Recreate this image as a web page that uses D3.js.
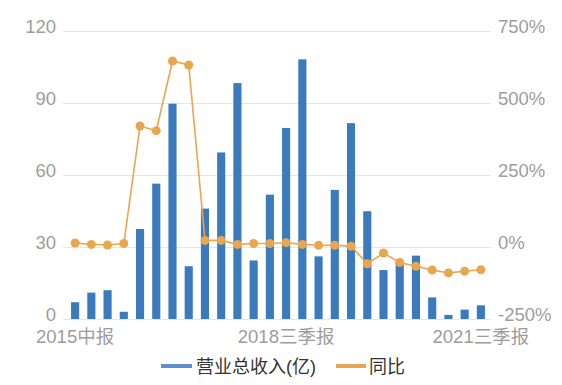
<!DOCTYPE html>
<html>
<head>
<meta charset="utf-8">
<script src="https://cdn.jsdelivr.net/npm/d3@7/dist/d3.min.js"></script>
<style>
  html, body { margin: 0; padding: 0; background: #fff; }
  svg { display: block; font-family: 'Liberation Sans', 'Noto Sans CJK SC', sans-serif; }
  .tick-label { fill: #9d9d9d; font-size: 18.5px; }
  .grid { stroke: #e6e6e6; stroke-width: 1px; }
  .legend-text { fill: #333; font-size: 18px; }
</style>
</head>
<body>
<div id="chart"></div>
<script>
// quarterly periods, 2015 Q2 .. 2021 Q3
const periods = [
  '2015中报', '2015三季报', '2015年报',
  '2016一季报', '2016中报', '2016三季报', '2016年报',
  '2017一季报', '2017中报', '2017三季报', '2017年报',
  '2018一季报', '2018中报', '2018三季报', '2018年报',
  '2019一季报', '2019中报', '2019三季报', '2019年报',
  '2020一季报', '2020中报', '2020三季报', '2020年报',
  '2021一季报', '2021中报', '2021三季报'
];
// 营业总收入 (亿)
const revenue = [7, 11, 12, 3, 37.5, 56.4, 89.7, 22, 46, 69.4, 98.3, 24.4,
  51.8, 79.6, 108.2, 26.1, 53.8, 81.6, 44.9, 20.4, 23.8, 26.4, 9, 1.7, 3.9, 5.7];
// 同比 (%)
const yoy = [14, 9, 7, 12, 420, 404, 646, 632, 23, 23, 9, 12,
  12, 15, 9, 6, 6, 3, -58, -21, -54, -67, -80, -90, -84, -79];
const leftTicks = [0, 30, 60, 90, 120];
const rightTicks = [-250, 0, 250, 500, 750];
const shownLabels = ['2015中报', '2018三季报', '2021三季报'];

const width = 562, height = 385;
const barColor = '#3b7bbd', lineColor = '#e8a64f';

const svg = d3.select('#chart').append('svg')
  .attr('width', width).attr('height', height);

const x = d3.scaleBand().domain(periods).range([67, 489])
  .paddingInner(0.5).paddingOuter(0.25);
const yL = d3.scaleLinear().domain([0, 120]).range([319, 31]);
const yR = d3.scaleLinear().domain([-250, 750]).range([319, 31]);
const cx = p => x(p) + x.bandwidth() / 2;

// grid lines
svg.append('g').selectAll('line')
  .data(leftTicks)
  .enter().append('line')
  .attr('class', 'grid')
  .attr('x1', 63).attr('x2', 491)
  .attr('y1', d => yL(d) + 0.5).attr('y2', d => yL(d) + 0.5);

// left axis labels
svg.append('g').selectAll('text')
  .data(leftTicks)
  .enter().append('text')
  .attr('class', 'tick-label')
  .attr('x', 56).attr('y', d => yL(d) + 1.5)
  .attr('text-anchor', 'end')
  .text(d => d);

// right axis labels
svg.append('g').selectAll('text')
  .data(rightTicks)
  .enter().append('text')
  .attr('class', 'tick-label')
  .attr('x', 498).attr('y', d => yR(d) + 1.5)
  .text(d => d + '%');

// x labels
svg.append('g').selectAll('text')
  .data(shownLabels)
  .enter().append('text')
  .attr('class', 'tick-label')
  .attr('x', d => cx(d)).attr('y', 343)
  .attr('text-anchor', 'middle')
  .text(d => d);

// bars
svg.append('g').selectAll('rect')
  .data(revenue)
  .enter().append('rect')
  .attr('fill', barColor)
  .attr('x', (d, i) => x(periods[i]))
  .attr('width', x.bandwidth())
  .attr('y', d => yL(d))
  .attr('height', d => yL(0) - yL(d));

// line
const line = d3.line()
  .x((d, i) => cx(periods[i]))
  .y(d => yR(d));

svg.append('path')
  .datum(yoy)
  .attr('fill', 'none')
  .attr('stroke', lineColor)
  .attr('stroke-width', 1.6)
  .attr('d', line);

svg.append('g').selectAll('circle')
  .data(yoy)
  .enter().append('circle')
  .attr('fill', lineColor)
  .attr('cx', (d, i) => cx(periods[i]))
  .attr('cy', d => yR(d))
  .attr('r', 4.5);

// legend
const legend = svg.append('g');
legend.append('line')
  .attr('x1', 161).attr('x2', 192).attr('y1', 366).attr('y2', 366)
  .attr('stroke', '#5d8fd2').attr('stroke-width', 4);
legend.append('text')
  .attr('class', 'legend-text')
  .attr('x', 196).attr('y', 373)
  .text('营业总收入(亿)');
legend.append('line')
  .attr('x1', 336).attr('x2', 366).attr('y1', 366).attr('y2', 366)
  .attr('stroke', lineColor).attr('stroke-width', 4);
legend.append('text')
  .attr('class', 'legend-text')
  .attr('x', 369).attr('y', 373)
  .text('同比');
</script>
</body>
</html>
